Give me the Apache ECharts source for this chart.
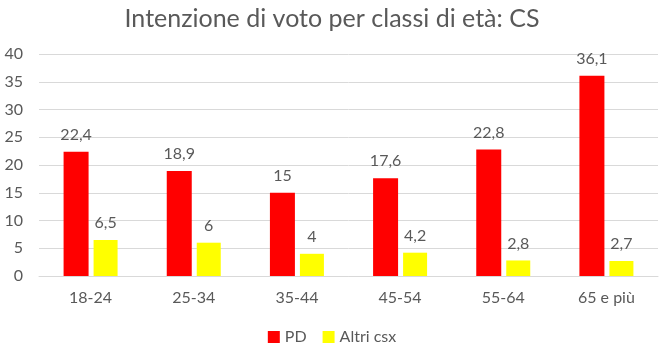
<!DOCTYPE html>
<html>
<head>
<meta charset="utf-8">
<script src="https://cdn.jsdelivr.net/npm/echarts@6/dist/echarts.min.js"></script>
<style>
  html, body { margin: 0; padding: 0; background: #fff; }
  #chart { width: 664px; height: 352px; }
</style>
</head>
<body>
<div id="chart"></div>
<script>
const categories = ['18-24', '25-34', '35-44', '45-54', '55-64', '65 e più']
const pdValues = [22.4, 18.9, 15, 17.6, 22.8, 36.1]
const altriValues = [6.5, 6, 4, 4.2, 2.8, 2.7]

const FONT = 'Lato, sans-serif'
const TEXT = '#595959'

// comma decimal, like the source
const fmt = p => String(p.value).replace('.', ',')

const chart = echarts.init(document.getElementById('chart'), null, { renderer: 'canvas' })

chart.setOption({
  animation: false,
  title: {
    text: 'Intenzione di voto per classi di età: CS',
    left: 'center',
    top: 1,
    textStyle: { color: TEXT, fontFamily: FONT, fontSize: 25, fontWeight: 'normal' },
  },
  legend: {
    bottom: 2,
    icon: 'rect',
    itemWidth: 12,
    itemHeight: 12,
    itemGap: 16,
    textStyle: { color: TEXT, fontFamily: FONT, fontSize: 16 },
    data: ['PD', 'Altri csx'],
  },
  grid: { left: 39, right: 6, top: 54, bottom: 76 },
  xAxis: {
    type: 'category',
    data: categories,
    axisLine: { lineStyle: { color: '#d9d9d9' } },
    axisTick: { show: false },
    axisLabel: { color: TEXT, fontFamily: FONT, fontSize: 16, margin: 14 },
  },
  yAxis: {
    type: 'value',
    min: 0,
    max: 40,
    interval: 5,
    axisLine: { show: false },
    axisTick: { show: false },
    axisLabel: { color: TEXT, fontFamily: FONT, fontSize: 16, margin: 16 },
    splitLine: { lineStyle: { color: '#d9d9d9' } },
  },
  series: [
    {
      name: 'PD',
      type: 'bar',
      data: pdValues,
      barWidth: 25,
      barGap: '20%',
      itemStyle: { color: '#ff0000' },
      label: { show: true, position: 'top', distance: 9, formatter: fmt, color: TEXT, fontFamily: FONT, fontSize: 16 },
    },
    {
      name: 'Altri csx',
      type: 'bar',
      data: altriValues,
      barWidth: 24,
      itemStyle: { color: '#ffff00' },
      label: { show: true, position: 'top', distance: 9, formatter: fmt, color: TEXT, fontFamily: FONT, fontSize: 16 },
    },
  ],
})
</script>
</body>
</html>
